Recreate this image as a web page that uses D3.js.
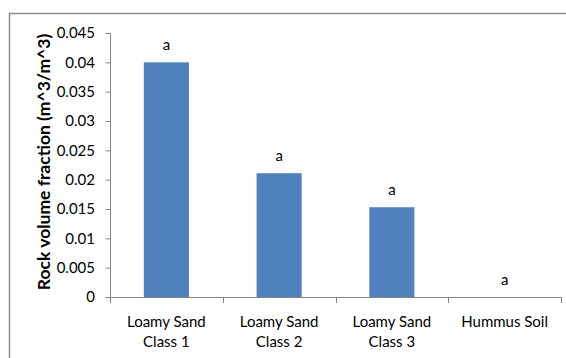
<!DOCTYPE html>
<html>
<head>
<meta charset="utf-8">
<script src="https://cdn.jsdelivr.net/npm/d3@7"></script>
<style>
  html, body { margin: 0; padding: 0; background: #fff; }
  svg { display: block; }
  text { font-family: Lato, "Open Sans", sans-serif; fill: #000; }
</style>
</head>
<body>
<svg id="chart" width="566" height="358"></svg>
<script>
// Soil classes and their mean rock volume fraction
const categories = [
  ["Loamy Sand", "Class 1"],
  ["Loamy Sand", "Class 2"],
  ["Loamy Sand", "Class 3"],
  ["Hummus Soil"]
];
const rockFraction = [0.0400, 0.0211, 0.0153, 0.0];
const groupLetters = ["a", "a", "a", "a"];
const yTicks = [0, 0.005, 0.01, 0.015, 0.02, 0.025, 0.03, 0.035, 0.04, 0.045];

const svg = d3.select("#chart");
const W = 566, H = 358;

// Chart area frame
svg.append("rect")
  .attr("x", 9.5).attr("y", 13.5)
  .attr("width", W + 10).attr("height", H + 10)
  .attr("fill", "none").attr("stroke", "#8c8c8c").attr("stroke-width", 1.5);

const plot = { left: 110, right: 561, top: 33, bottom: 297 };

const x = d3.scaleBand()
  .domain(d3.range(categories.length))
  .range([plot.left, plot.right])
  .paddingInner(0.6)
  .paddingOuter(0.3);

const y = d3.scaleLinear()
  .domain([0, 0.045])
  .range([plot.bottom, plot.top]);

// Bars
svg.append("g").selectAll("rect")
  .data(rockFraction)
  .join("rect")
  .attr("x", (d, i) => x(i))
  .attr("y", d => y(d))
  .attr("width", x.bandwidth())
  .attr("height", d => y(0) - y(d))
  .attr("fill", "#4f81bd");

// Significance letters above bars
svg.append("g").selectAll("text")
  .data(rockFraction)
  .join("text")
  .attr("x", (d, i) => x(i) + x.bandwidth() / 2)
  .attr("y", d => y(d) - 12)
  .attr("text-anchor", "middle")
  .attr("font-size", 15)
  .text((d, i) => groupLetters[i]);

// Y axis
const yAxis = d3.axisLeft(y)
  .tickValues(yTicks)
  .tickSize(5)
  .tickPadding(10)
  .tickFormat(d => d === 0 ? "0" : d3.format("")(+d.toFixed(3)));
const gy = svg.append("g")
  .attr("transform", `translate(${plot.left},0)`)
  .call(yAxis);
gy.select(".domain").attr("stroke", "#868686").attr("d", `M0.5,${plot.top}V${plot.bottom}`);
gy.selectAll(".tick line").attr("stroke", "#868686").attr("transform", "translate(0.5,0)");
gy.selectAll(".tick text")
  .attr("font-size", 15)
  .attr("font-family", "Lato, 'Open Sans', sans-serif")
  .attr("fill", "#000");

// X axis with category separators
const bounds = d3.range(categories.length + 1).map(i => plot.left + i * x.step());
const gx = svg.append("g");
gx.append("line")
  .attr("x1", plot.left).attr("x2", plot.right)
  .attr("y1", plot.bottom + 0.5).attr("y2", plot.bottom + 0.5)
  .attr("stroke", "#868686");
gx.selectAll("line.sep")
  .data(bounds)
  .join("line")
  .attr("class", "sep")
  .attr("x1", d => Math.round(d) + 0.5).attr("x2", d => Math.round(d) + 0.5)
  .attr("y1", plot.bottom).attr("y2", plot.bottom + 6)
  .attr("stroke", "#868686");

// Category labels (wrapped onto two lines)
const lbl = svg.append("g").selectAll("text")
  .data(categories)
  .join("text")
  .attr("x", (d, i) => x(i) + x.bandwidth() / 2)
  .attr("y", 327)
  .attr("text-anchor", "middle")
  .attr("font-size", 15);
lbl.selectAll("tspan")
  .data(d => d)
  .join("tspan")
  .attr("x", function () { return this.parentNode.getAttribute("x"); })
  .attr("dy", (d, i) => i === 0 ? 0 : 20)
  .text(d => d);

// Y axis title
svg.append("text")
  .attr("transform", `translate(49.5,${(plot.top + plot.bottom) / 2 - 3}) rotate(-90)`)
  .attr("text-anchor", "middle")
  .attr("font-size", 17.5)
  .attr("font-weight", "bold")
  .text("Rock volume fraction (m^3/m^3)");
</script>
</body>
</html>
